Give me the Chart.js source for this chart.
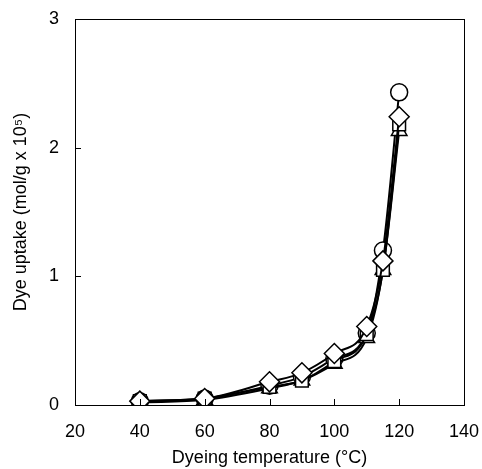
<!DOCTYPE html>
<html>
<head>
<meta charset="utf-8">
<script src="https://cdn.jsdelivr.net/npm/chart.js@4"></script>
<style>
  html, body { margin: 0; padding: 0; background: #fff; }
  #wrap { width: 482px; height: 469px; }
</style>
</head>
<body>
<div id="wrap"><canvas id="uptakeChart" width="482" height="469"></canvas></div>
<script>
const temps = [40, 60, 80, 90, 100, 110, 115, 120];
const circleVals = [0.03, 0.05, 0.15, 0.22, 0.36, 0.56, 1.20, 2.43];
const triangleVals = [0.02, 0.04, 0.13, 0.19, 0.32, 0.52, 1.05, 2.13];
const squareVals = [0.03, 0.05, 0.14, 0.19, 0.34, 0.55, 1.05, 2.18];
const diamondVals = [0.03, 0.05, 0.18, 0.25, 0.40, 0.61, 1.12, 2.24];
const xTicks = [20, 40, 60, 80, 100, 120, 140];
const yTicks = [0, 1, 2, 3];

function pts(vals) {
    return temps.map((t, i) => ({ x: t, y: vals[i] }));
}

function series(label, vals, style, radius) {
    return {
        label: label,
        data: pts(vals),
        showLine: true,
        borderColor: "#000",
        borderWidth: 2,
        cubicInterpolationMode: "monotone",
        pointStyle: style,
        pointRadius: radius,
        pointBackgroundColor: "#fff",
        pointBorderColor: "#000",
        pointBorderWidth: 1.5
    };
}

// inward tick marks + frame
const innerTicks = {
    id: "innerTicks",
    afterDraw(chart) {
        const c = chart.ctx, a = chart.chartArea;
        const xs = chart.scales.x, ys = chart.scales.y;
        c.save();
        c.strokeStyle = "#000";
        c.lineWidth = 1;
        c.beginPath();
        xTicks.forEach(v => {
            const px = Math.round(xs.getPixelForValue(v)) + 0.5;
            c.moveTo(px, a.bottom);
            c.lineTo(px, a.bottom - 6);
        });
        yTicks.forEach(v => {
            const py = Math.round(ys.getPixelForValue(v)) + 0.5;
            c.moveTo(a.left, py);
            c.lineTo(a.left + 6, py);
        });
        c.stroke();
        c.strokeRect(a.left + 0.5, a.top + 0.5, a.right - a.left, a.bottom - a.top);
        c.restore();
    }
};

const font = { family: "'Liberation Sans', Arial, sans-serif", size: 18 };

new Chart(document.getElementById("uptakeChart"), {
    type: "scatter",
    data: {
        datasets: [
            series("diamond", diamondVals, "rectRot", 10),
            series("square", squareVals, "rect", 9),
            series("triangle", triangleVals, "triangle", 9),
            series("circle", circleVals, "circle", 8.5)
        ]
    },
    options: {
        responsive: false,
        animation: false,
        layout: { padding: { top: 19, right: 0, left: 0, bottom: 0 } },
        plugins: { legend: { display: false }, tooltip: { enabled: false } },
        scales: {
            x: {
                min: 20, max: 140,
                afterBuildTicks(s) { s.ticks = xTicks.map(v => ({ value: v })); },
                afterFit(s) { s.height = 64; s.paddingRight = 18; },
                grid: { display: false },
                border: { display: false },
                ticks: { color: "#000", font: font, padding: 8 },
                title: { display: true, text: "Dyeing temperature (°C)", color: "#000", font: font, padding: { top: 6, bottom: 0 } }
            },
            y: {
                min: 0, max: 3,
                afterBuildTicks(s) { s.ticks = yTicks.map(v => ({ value: v })); },
                afterFit(s) { s.width = 75; },
                grid: { display: false },
                border: { display: false },
                ticks: { color: "#000", font: font, padding: 8 },
                title: { display: true, text: "Dye uptake (mol/g x 10⁵)", color: "#000", font: font, padding: { top: 10, bottom: 0 } }
            }
        }
    },
    plugins: [innerTicks]
});
</script>
</body>
</html>
